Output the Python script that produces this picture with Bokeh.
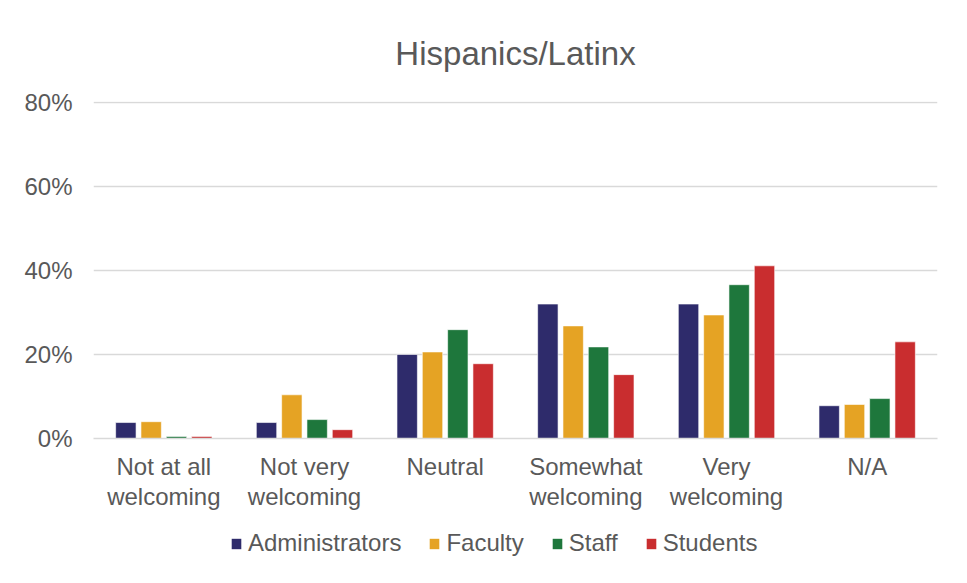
from bokeh.plotting import figure
from bokeh.layouts import column
from bokeh.models import ColumnDataSource, FactorRange, Legend, LegendItem, NumeralTickFormatter
from bokeh.transform import dodge
from bokeh.embed import file_html
from bokeh.resources import INLINE

categories = ["Not at all\nwelcoming", "Not very\nwelcoming", "Neutral", "Somewhat\nwelcoming", "Very\nwelcoming", "N/A"]
administrators = [0.038, 0.038, 0.200, 0.320, 0.320, 0.078]
faculty = [0.040, 0.104, 0.206, 0.268, 0.294, 0.081]
staff = [0.005, 0.045, 0.259, 0.218, 0.366, 0.095]
students = [0.005, 0.021, 0.178, 0.152, 0.411, 0.230]
series = ["Administrators", "Faculty", "Staff", "Students"]
colors = ["#2e2b6b", "#e5a324", "#1e773c", "#c92d2f"]
y_ticks = [0, 0.2, 0.4, 0.6, 0.8]

src = ColumnDataSource(dict(cat=categories, Administrators=administrators, Faculty=faculty,
                            Staff=staff, Students=students))

FONT = "Liberation Sans"
GREY = "#595959"

p = figure(x_range=FactorRange(*categories), y_range=(0, 0.802),
           frame_width=844, frame_height=337,
           min_border_left=93, min_border_right=30, min_border_top=101, min_border_bottom=70,
           output_backend="svg", toolbar_location=None, background_fill_color="white",
           border_fill_color="white", outline_line_color=None)

p.title.text = "Hispanics/Latinx"
p.title.align = "center"
p.title.text_font = FONT
p.title.text_font_size = "33px"
p.title.text_font_style = "normal"
p.title.text_color = GREY
p.title.standoff = 60

offsets = [-0.27, -0.09, 0.09, 0.27]
for s, c, o in zip(series, colors, offsets):
    p.vbar(x=dodge("cat", o, range=p.x_range), top=s, width=0.145, source=src,
           fill_color=c, line_color="white", line_width=0.6)

p.yaxis.ticker = y_ticks
p.yaxis.formatter = NumeralTickFormatter(format="0%")
p.ygrid.ticker = y_ticks
p.ygrid.grid_line_color = "#d9d9d9"
p.ygrid.grid_line_width = 1.5
p.xgrid.grid_line_color = None

for ax in (p.xaxis, p.yaxis):
    ax.axis_line_color = None
    ax.major_tick_line_color = None
    ax.minor_tick_line_color = None
    ax.major_label_text_font = FONT
    ax.major_label_text_font_size = "24px"
    ax.major_label_text_color = GREY
p.xaxis.axis_line_color = "#d9d9d9"
p.xaxis.axis_line_width = 1.5
p.xaxis.major_label_standoff = 8
p.xaxis.major_label_text_line_height = 1.12
p.yaxis.major_label_standoff = 15

# legend strip (dummy, undrawn renderers only provide legend swatches)
lg = figure(width=967, height=75, x_range=(0, 1), y_range=(0, 1),
            min_border=0, output_backend="svg", toolbar_location=None,
            x_axis_type=None, y_axis_type=None, outline_line_color=None,
            background_fill_color="white", border_fill_color="white")
lg.grid.visible = False
items = []
for s, c in zip(series, colors):
    r = lg.vbar(x=[float("nan")], top=[float("nan")], width=0.1, fill_color=c, line_color=None)
    items.append(LegendItem(label=s, renderers=[r]))

legend = Legend(items=items, orientation="horizontal", location=(137, 30),
                label_text_font=FONT, label_text_font_size="24px", label_text_color=GREY,
                glyph_width=12, glyph_height=13, label_standoff=6, spacing=27,
                border_line_color=None, background_fill_alpha=0, padding=0, margin=0)
lg.add_layout(legend, "center")

layout = column(p, lg, spacing=0)
open("out.html", "w").write(file_html(layout, INLINE))
